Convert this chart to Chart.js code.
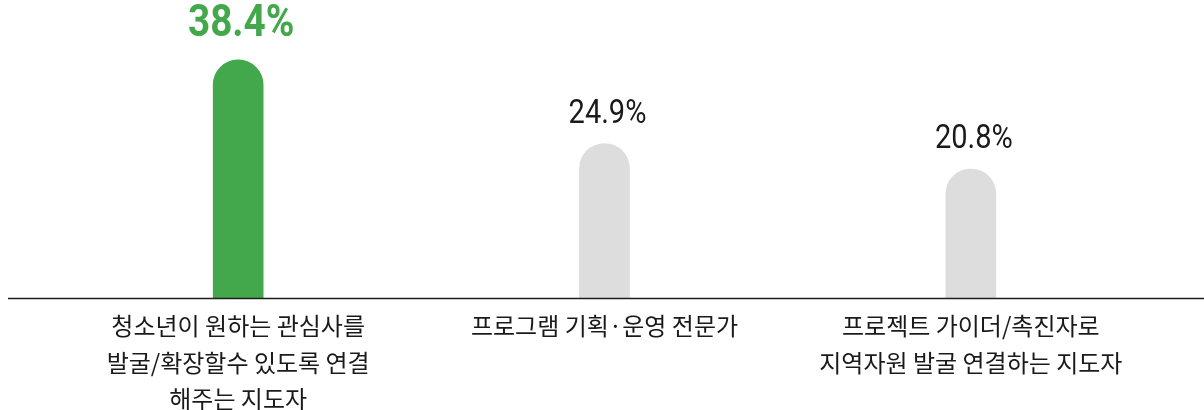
<!DOCTYPE html>
<html>
<head>
<meta charset="utf-8">
<script src="https://cdn.jsdelivr.net/npm/chart.js@4"></script>
<style>
  html, body { margin: 0; padding: 0; background: #fff; }
  #wrap { width: 1204px; height: 410px; }
</style>
</head>
<body>
<div id="wrap"><canvas id="roleChart"></canvas></div>
<script>
const categories = [
    ['청소년이 원하는 관심사를', '발굴/확장할수 있도록 연결', '해주는 지도자'],
    ['프로그램 기획·운영 전문가'],
    ['프로젝트 가이더/촉진자로', '지역자원 발굴 연결하는 지도자']
];
const shares = [38.4, 24.9, 20.8];
const valueLabels = ['38.4%', '24.9%', '20.8%'];

const barColors = ['#43a84b', '#dcdddc', '#dcdddc'];

// baseline drawn across the whole width, like the source
const baselinePlugin = {
    id: 'baseline',
    afterDatasetsDraw(chart) {
        const { ctx } = chart;
        const y = chart.scales.y.getPixelForValue(0) + 0.5;
        ctx.save();
        ctx.strokeStyle = '#1e1e1e';
        ctx.lineWidth = 1.5;
        ctx.beginPath();
        ctx.moveTo(8, y);
        ctx.lineTo(chart.width, y);
        ctx.stroke();
        ctx.restore();
    }
};

const valueLabelPlugin = {
    id: 'valueLabels',
    afterDatasetsDraw(chart) {
        const { ctx } = chart;
        const meta = chart.getDatasetMeta(0);
        meta.data.forEach((bar, i) => {
            const first = i === 0;
            ctx.save();
            ctx.translate(bar.x + 3, bar.y - (first ? 24 : 21));
            ctx.scale(0.88, 1);
            ctx.font = first ? 'bold 44px Roboto' : '33px Roboto';
            ctx.fillStyle = first ? '#43a84b' : '#1a1a1a';
            ctx.textAlign = 'center';
            ctx.textBaseline = 'alphabetic';
            ctx.fillText(valueLabels[i], 0, 0);
            ctx.restore();
        });
    }
};

new Chart(document.getElementById('roleChart'), {
    type: 'bar',
    data: {
        labels: categories,
        datasets: [{
            data: shares,
            backgroundColor: barColors,
            barThickness: 50,
            borderRadius: { topLeft: 25, topRight: 25 },
            borderSkipped: 'start'
        }]
    },
    options: {
        responsive: true,
        maintainAspectRatio: false,
        animation: false,
        layout: { padding: { top: 50, left: 55, right: 50, bottom: 0 } },
        plugins: {
            legend: { display: false },
            tooltip: { enabled: false }
        },
        scales: {
            x: {
                grid: { display: false, drawTicks: false },
                border: { display: false },
                ticks: {
                    padding: 10,
                    color: '#1a1a1a',
                    font: { family: '"Noto Sans CJK KR"', size: 24, lineHeight: 1.52 }
                },
                afterFit(scale) { scale.height = 112; }
            },
            y: {
                display: false,
                min: 0,
                max: 40
            }
        }
    },
    plugins: [baselinePlugin, valueLabelPlugin]
});
</script>
</body>
</html>
